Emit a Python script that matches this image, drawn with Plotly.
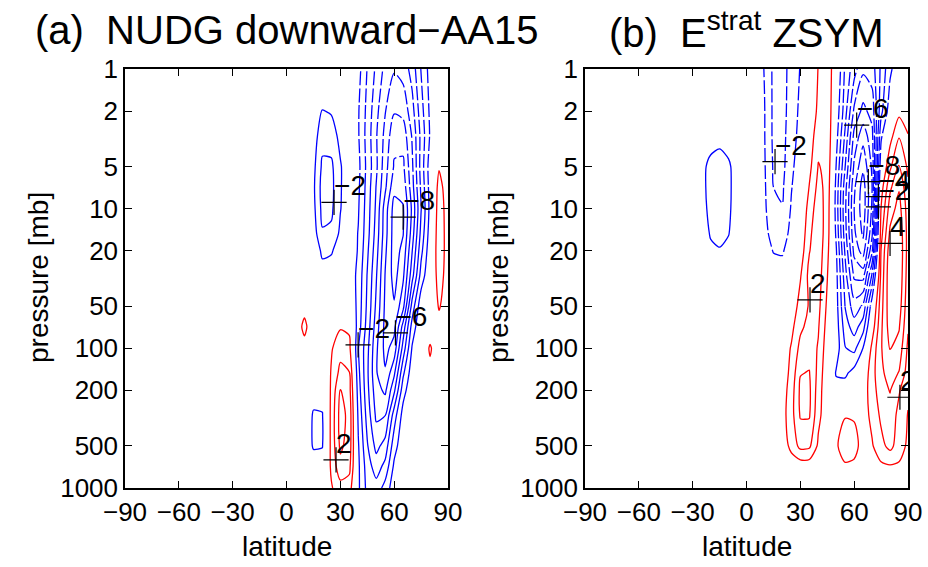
import plotly.graph_objects as go

# ---------------- data ----------------
pressure = [1, 2, 3, 5, 7, 10, 15, 20, 30, 50, 70, 100, 150, 200, 300, 500, 700, 1000]

lat_a = [0, 5, 10, 15, 20, 25, 30, 35, 40, 45, 50, 55, 60, 65, 70, 75, 80, 85, 90]
field_a = [
    [0, 0, 0, 0, 0, 0, 0, 0, -0.6, -2.05, -3.2, -4.3, -4.9, -4.6, -3.6, -1.95, -0.6, 0, 0],
    [0, 0, 0, -0.2, -1.05, -0.9, -0.3, -0.2, -0.9, -2.3, -3.7, -4.95, -5.9, -5.7, -4.4, -2.4, -0.8, 0, 0],
    [0, 0, 0, -0.5, -1.6, -1.5, -0.7, -0.3, -0.9, -2.4, -3.9, -5.3, -6.7, -6.6, -4.9, -2.7, -0.9, 0.2, 0],
    [0, 0, 0, -0.7, -2.2, -2.2, -1.1, -0.3, -0.7, -2.3, -3.8, -5.6, -7.1, -7.2, -5.2, -2.6, -0.5, 0.9, 0.3],
    [0, 0, 0, -0.8, -2.4, -2.3, -1.1, -0.3, -0.8, -2.4, -4.05, -5.8, -7.7, -7.6, -5.4, -2.8, -0.6, 1.4, 0.4],
    [0, 0, 0, -0.7, -2.3, -2.2, -1.05, -0.3, -0.9, -2.5, -4.2, -6.5, -8.4, -8.1, -5.8, -3.05, -0.7, 1.6, 0.5],
    [0, 0, 0, -0.5, -1.9, -1.8, -0.8, -0.3, -1.05, -2.6, -4.4, -6.6, -8.5, -8.05, -5.5, -2.7, -0.5, 1.7, 0.5],
    [0, 0, 0, -0.3, -1.2, -1.1, -0.5, -0.2, -1.1, -2.8, -4.6, -6.8, -8.5, -7.7, -5.05, -2.3, -0.3, 1.7, 0.5],
    [0, 0, 0, 0, -0.6, -0.5, -0.2, -0.3, -1.3, -3.05, -4.9, -7.05, -8.4, -7.2, -4.4, -1.6, -0.1, 1.5, 0.5],
    [0, 0.3, 0.6, 0.2, 0, 0, 0.3, 0.2, -1.4, -3.2, -5.2, -7.2, -7.9, -6.3, -2.6, -0.3, 0, 1.1, 0.4],
    [0, 0.3, 1.3, 0.2, 0, 0.4, 0.9, 0.8, -1.5, -3.4, -5.5, -7.3, -7.3, -4.6, -1.6, -0.1, 0.3, 0.6, 0.2],
    [0, 0.1, 0.6, 0.1, 0, 0.9, 1.6, 1.3, -1.95, -3.7, -5.8, -7.3, -6.6, -3.6, -0.9, 0, 1.15, 0.2, 0],
    [0, 0, 0, -0.2, -0.2, 1.1, 2.3, 2.05, -1.7, -3.8, -5.9, -6.9, -5.2, -2.2, -0.4, 0, 0.7, 0.1, 0],
    [0, 0, 0, -0.6, -0.6, 1.2, 3.05, 2.4, -1.5, -3.7, -5.6, -6.2, -4.2, -1.4, -0.2, 0, 0.1, 0, 0],
    [0, 0, -0.3, -1.1, -1.05, 1.3, 3.4, 2.7, -1.2, -3.4, -5.2, -5.05, -2.5, -0.6, 0, 0, 0, 0, 0],
    [0, 0, -0.3, -1.1, -1.05, 1.3, 3.2, 2.6, -0.9, -2.9, -4.3, -3.6, -1.4, -0.3, 0, 0, 0, 0, 0],
    [0, 0, 0, -0.5, -0.5, 1.2, 2.7, 2.3, -0.8, -2.5, -3.5, -2.7, -0.8, -0.1, 0, 0, 0, 0, 0],
    [0, 0, 0, 0, 0, 0.9, 1.6, 1.5, -0.8, -2.3, -2.6, -1.6, -0.4, 0, 0, 0, 0, 0, 0],
]

lat_b = [-25, -20, -15, -10, -5, 0, 5, 10, 15, 20, 25, 30, 35, 40, 45, 50, 55, 60, 65, 70, 75, 80, 85, 90]
field_b = [
    [0, 0, 0, 0, 0, 0, -0.3, -1.05, -2.2, -2.4, -1.6, -0.95, -0.2, 1.05, 1.8, 0.1, -2.2, -3.6, -4.8, -4.5, -2.8, -1.2, -0.3, 0],
    [0, 0, 0, 0, 0, 0, -0.3, -0.95, -2.2, -2.4, -1.5, -0.8, -0.1, 1.3, 1.9, -0.3, -2.6, -5.2, -6.3, -5.6, -2.3, -0.4, 0.7, 0.4],
    [0, -0.5, -0.7, -0.4, 0, 0, -0.3, -0.95, -2.2, -2.35, -1.4, -0.7, 0.3, 1.7, 1.9, -0.6, -3.2, -6.3, -7.6, -6.3, -1.2, 0.6, 1.9, 1.05],
    [-0.7, -1.3, -1.4, -1.2, -0.4, 0, -0.3, -0.9, -2.1, -2.3, -1.2, -0.5, 0.7, 2.05, 1.8, -1.05, -4.0, -7.2, -8.8, -6.8, -0.2, 1.8, 3.1, 1.8],
    [-0.7, -1.35, -1.45, -1.25, -0.4, 0, -0.3, -0.85, -2.0, -2.15, -1.05, -0.4, 1.05, 2.3, 1.7, -1.3, -4.6, -7.8, -9.5, -7.0, 0.5, 2.8, 3.9, 2.2],
    [-0.6, -1.3, -1.35, -1.2, -0.4, 0, -0.3, -0.8, -1.8, -1.95, -0.9, -0.2, 1.5, 2.5, 1.6, -1.4, -4.8, -8.0, -9.6, -6.8, 1.05, 3.5, 4.4, 2.5],
    [-0.4, -1.1, -1.2, -1.05, -0.3, 0, -0.2, -0.7, -1.4, -1.5, -0.7, 0.1, 1.8, 2.6, 1.5, -1.2, -4.6, -7.8, -9.2, -6.2, 1.6, 4.2, 4.8, 2.6],
    [-0.2, -0.8, -0.95, -0.7, -0.2, 0, -0.1, -0.5, -1.05, -1.1, -0.5, 0.4, 1.95, 2.6, 1.3, -0.9, -4.2, -7.3, -8.5, -5.2, 2.05, 4.6, 4.9, 2.6],
    [0, 0, 0, 0, 0, 0, 0, -0.2, -0.5, -0.6, -0.3, 0.9, 2.3, 2.5, 1.05, -0.7, -3.6, -6.2, -6.4, -2.8, 2.3, 4.8, 4.8, 2.5],
    [0, 0, 0, 0, 0, 0, 0, 0, 0, 0, 0.3, 1.4, 2.1, 2.3, 0.8, -0.6, -3.05, -4.6, -3.8, -0.3, 2.6, 4.7, 4.5, 2.3],
    [0, 0, 0, 0, 0, 0, 0, 0, 0, 0.1, 0.7, 1.8, 2.3, 2.1, 0.6, -0.5, -2.5, -3.5, -2.4, 0.4, 2.8, 4.5, 4.1, 2.1],
    [0, 0, 0, 0, 0, 0, 0, 0, 0, 0.3, 1.1, 2.3, 2.6, 1.9, 0.4, -0.5, -1.95, -2.3, -0.95, 1.3, 2.9, 4.05, 3.6, 1.8],
    [0, 0, 0, 0, 0, 0, 0, 0, 0, 0.4, 1.3, 2.95, 3.05, 1.7, 0.2, -1.1, -1.2, -0.6, 0.2, 1.6, 2.8, 3.4, 2.95, 1.5],
    [0, 0, 0, 0, 0, 0, 0, 0, 0.1, 0.5, 1.5, 3.2, 3.2, 1.5, 0.2, -0.6, -0.5, -0.2, 0.5, 1.5, 2.6, 3.05, 2.1, 1.2],
    [0, 0, 0, 0, 0, 0, 0, 0, 0.1, 0.6, 1.6, 3.1, 3.1, 1.3, 0.3, 0.2, 0.95, 0.9, 0.5, 1.3, 2.2, 2.6, 1.7, 0.95],
    [0, 0, 0, 0, 0, 0, 0, 0, 0.1, 0.4, 1.3, 2.3, 2.2, 0.8, 0.3, 0.9, 1.4, 1.35, 0.6, 0.9, 1.7, 2.3, 1.5, 0.8],
    [0, 0, 0, 0, 0, 0, 0, 0, 0, 0.1, 0.4, 0.4, 0.4, 0.3, 0.1, 0.5, 0.9, 0.8, 0.3, 0.4, 0.8, 0.9, 0.85, 0.5],
    [0, 0, 0, 0, 0, 0, 0, 0, 0, 0, 0, 0.1, 0, 0, 0, 0, 0.3, 0, 0, 0, 0, 0.3, 0, 0],
]

# contour-label positions (lat, pressure) and texts
lab_a_lat = [26.5, 65.0, 39.9, 60.7, 27.6]
lab_a_p = [9.0, 11.5, 94.6, 77.6, 630.0]
lab_a_text = ["\u22122", "\u22128", "\u22122", "\u22126", "2"]

lab_b_lat = [61.4, 15.9, 67.9, 73.5, 73.5, 80.0, 35.4, 85.5]
lab_b_p = [2.52, 4.6, 6.4, 8.2, 9.7, 17.7, 45.0, 224.0]
lab_b_text = ["\u22126", "\u22122", "\u22128", "\u22124", "\u22122", "4", "2", "2"]

x_ticks = [-90, -60, -30, 0, 30, 60, 90]
x_ticktext = ["\u221290", "\u221260", "\u221230", "0", "30", "60", "90"]
p_ticks = [1, 2, 5, 10, 20, 50, 100, 200, 500, 1000]
p_ticktext = ["1", "2", "5", "10", "20", "50", "100", "200", "500", "1000"]

titles = ["(a)\u00a0 NUDG downward\u2212AA15", "(b)\u00a0 E<sup>strat</sup> ZSYM"]

# ---------------- figure ----------------
FONT = "Liberation Sans, Arial, Helvetica, sans-serif"
BLUE = "#0000ff"
RED = "#ff0000"
LW = 1.3
DASH = "14px,3px"

fig = go.Figure()


def neg_trace(lat, pp, zz, xa, ya, dash):
    fig.add_trace(go.Contour(
        x=lat, y=pp, z=zz, xaxis=xa, yaxis=ya, autocontour=False,
        contours=dict(coloring="none", start=-12, end=-1, size=1),
        line=dict(color=BLUE, width=LW, dash=dash, smoothing=0.7),
        showscale=False, hoverinfo="skip"))


def add_panel(lat, field, xa, ya, split_p, split_lat):
    k = pressure.index(split_p)
    j = lat.index(split_lat)
    # western part: solid everywhere
    if j > 0:
        neg_trace(lat[:j + 1], pressure, [r[:j + 1] for r in field], xa, ya, "solid")
    # eastern part: dashed aloft, solid below
    east = lat[j:]
    neg_trace(east, pressure[:k + 1], [r[j:] for r in field[:k + 1]], xa, ya, DASH)
    neg_trace(east, pressure[k:], [r[j:] for r in field[k:]], xa, ya, "solid")
    fig.add_trace(go.Contour(
        x=lat, y=pressure, z=field, xaxis=xa, yaxis=ya, autocontour=False,
        contours=dict(coloring="none", start=1, end=10, size=1),
        line=dict(color=RED, width=LW, smoothing=0.7),
        showscale=False, hoverinfo="skip"))


def add_labels(lats, ps, texts, xa, ya):
    fig.add_trace(go.Scatter(
        x=lats, y=ps, mode="markers", xaxis=xa, yaxis=ya,
        marker=dict(symbol="cross-thin", size=18,
                    line=dict(color="black", width=1.2), color="black"),
        hoverinfo="skip", showlegend=False, cliponaxis=True))
    fig.add_trace(go.Scatter(
        x=lats, y=ps, mode="text", text=texts, textposition="top right",
        textfont=dict(family=FONT, size=28, color="black"),
        xaxis=xa, yaxis=ya, hoverinfo="skip", showlegend=False, cliponaxis=True))


add_panel(lat_a, field_a, "x", "y", 7, 35)
add_panel(lat_b, field_b, "x2", "y2", 50, 0)
add_labels(lab_a_lat, lab_a_p, lab_a_text, "x", "y")
add_labels(lab_b_lat, lab_b_p, lab_b_text, "x2", "y2")

W, H = 928, 567
ax_common = dict(showline=True, linecolor="black", linewidth=1.5, mirror="ticks",
                 ticks="inside", ticklen=7, tickwidth=1.2, tickcolor="black",
                 showgrid=False, zeroline=False,
                 tickfont=dict(family=FONT, size=26, color="black"))
xdom_a = [125 / W, 448 / W]
xdom_b = [585 / W, 908 / W]
ydom = [1 - 488 / H, 1 - 69 / H]

fig.update_layout(
    width=W, height=H, margin=dict(l=0, r=0, t=0, b=0, autoexpand=False),
    paper_bgcolor="white", plot_bgcolor="white", showlegend=False,
    xaxis=dict(domain=xdom_a, range=[-90, 90], anchor="y",
               tickvals=x_ticks, ticktext=x_ticktext, **ax_common),
    yaxis=dict(domain=ydom, type="log", range=[3, 0], anchor="x",
               tickvals=p_ticks, ticktext=p_ticktext, **ax_common),
    xaxis2=dict(domain=xdom_b, range=[-90, 90], anchor="y2",
                tickvals=x_ticks, ticktext=x_ticktext, **ax_common),
    yaxis2=dict(domain=ydom, type="log", range=[3, 0], anchor="x2",
                tickvals=p_ticks, ticktext=p_ticktext, **ax_common),
)

ann = []
for i, (x0, x1) in enumerate([xdom_a, xdom_b]):
    xc = (x0 + x1) / 2
    ann.append(dict(text=titles[i], x=xc, y=1 - 30 / H, xref="paper", yref="paper",
                    xanchor="center", yanchor="middle", showarrow=False,
                    font=dict(family=FONT, size=40, color="black")))
    ann.append(dict(text="latitude", x=xc, y=1 - 546 / H, xref="paper", yref="paper",
                    xanchor="center", yanchor="middle", showarrow=False,
                    font=dict(family=FONT, size=28, color="black")))
    ann.append(dict(text="pressure [mb]", x=(x0 * W - 87) / W, y=1 - 278 / H,
                    xref="paper", yref="paper", textangle=-90,
                    xanchor="center", yanchor="middle", showarrow=False,
                    font=dict(family=FONT, size=28, color="black")))
fig.update_layout(annotations=ann)

fig.write_html("out.html")
